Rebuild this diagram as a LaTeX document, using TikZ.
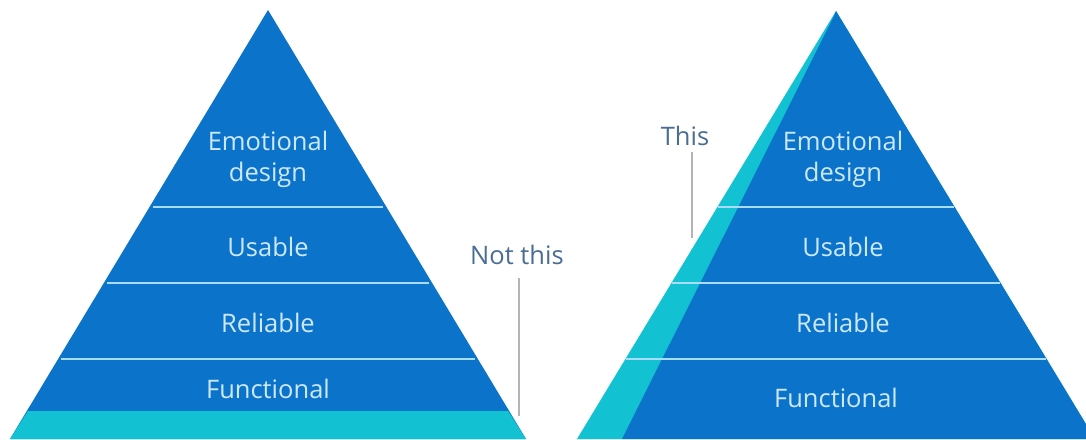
\documentclass[tikz,border=0pt]{standalone}
\usepackage{fontspec}
\setmainfont{Open Sans}
\definecolor{pblue}{HTML}{0B74CA}
\definecolor{pcyan}{HTML}{12C2D3}
\definecolor{ptext}{HTML}{CDE8FA}
\definecolor{plabel}{HTML}{4A6D94}
\definecolor{pgray}{HTML}{B4B4B4}
\definecolor{pline}{HTML}{A8DCF7}
\tikzset{
  layertext/.style={text=ptext, font=\fontsize{25.5}{31}\selectfont, align=center, inner sep=0pt},
  sidelabel/.style={text=plabel, font=\fontsize{25.5}{31}\selectfont, inner sep=0pt},
  leader/.style={draw=pgray, line width=2pt},
  divider/.style={draw=pline, line width=2pt}
}
\begin{document}
\begin{tikzpicture}[x=1pt,y=-1pt]
\useasboundingbox (0,0) rectangle (1086,439);
\clip (0,0) rectangle (1086,439);
% ---------- left pyramid ----------
\fill[pblue] (268,10) -- (10,439) -- (526,439) -- cycle;
\fill[pcyan] (27.9,411) -- (508.1,411) -- (526,439) -- (10,439) -- cycle;
\draw[divider] (152.8,207) -- (383.2,207);
\draw[divider] (106.9,283) -- (429.1,283);
\draw[divider] (61.0,359) -- (475.0,359);
\node[layertext] (le) at (268,159) {Emotional\\design};
\node[layertext] (lu) at (268,247) {Usable};
\node[layertext] (lr) at (268,323) {Reliable};
\node[layertext] (lf) at (268,389) {Functional};
% ---------- right pyramid ----------
\fill[pcyan] (836,11) -- (577,439) -- (1095,439) -- cycle;
\fill[pblue] (836,11) -- (834,16) -- (622,439) -- (1095,439) -- cycle;
\draw[divider] (717.6,207) -- (954.4,207);
\draw[divider] (671.6,283) -- (1000.4,283);
\draw[divider] (625.7,359) -- (1046.3,359);
\node[layertext] (re) at (843,159) {Emotional\\design};
\node[layertext] (ru) at (843,247) {Usable};
\node[layertext] (rr) at (843,323) {Reliable};
\node[layertext] (rf) at (836,398) {Functional};
% ---------- side labels ----------
\node[sidelabel] (nt) at (517,255) {Not this};
\coordinate (ntstart) at (519,278);
\coordinate (ntend) at (519,416);
\draw[leader] (ntstart) -- (ntend);
\node[sidelabel] (th) at (685,136) {This};
\coordinate (thstart) at (692,152);
\coordinate (thend) at (692,238);
\draw[leader] (thstart) -- (thend);
\end{tikzpicture}
\end{document}
